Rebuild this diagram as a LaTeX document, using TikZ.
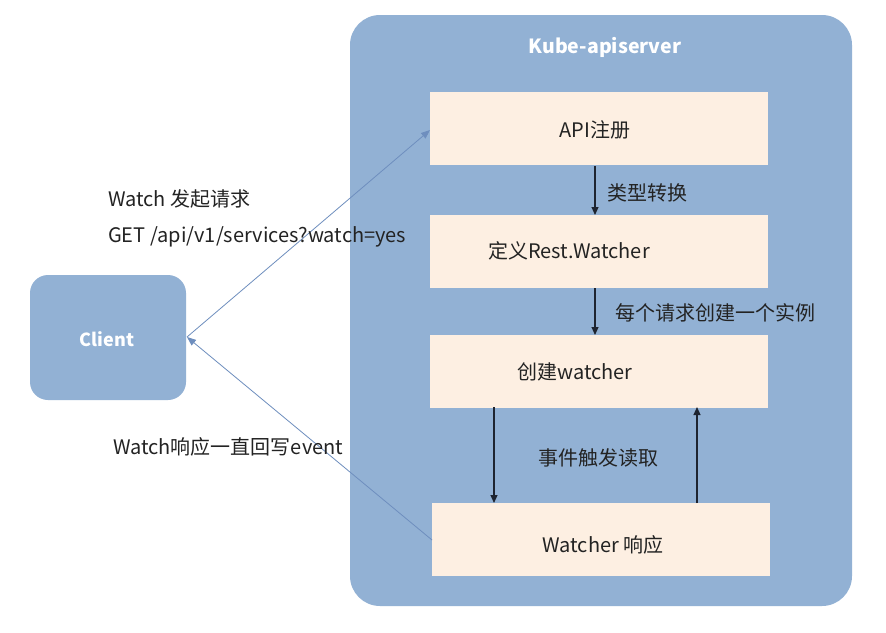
\documentclass[tikz,border=0pt]{standalone}
\usepackage{fontspec}
\setmainfont{Noto Sans CJK SC}
\usetikzlibrary{arrows.meta}
\definecolor{panel}{RGB}{146,177,212}
\definecolor{peach}{RGB}{253,239,226}
\definecolor{ink}{RGB}{30,36,48}
\definecolor{thin}{RGB}{110,142,190}
\definecolor{txt}{RGB}{35,35,35}
\tikzset{
  stagebox/.style={draw=none,fill=peach,minimum width=338pt,minimum height=73pt,inner sep=0pt},
  lbl/.style={font=\fontsize{20}{22}\selectfont,text=txt,inner sep=0pt},
  flow/.style={draw=ink,line width=1.1pt,-{Triangle[length=8pt,width=7pt]}},
  call/.style={draw=thin,line width=0.8pt,-{Triangle[length=9pt,width=7pt]}}
}
\begin{document}
\begin{tikzpicture}[x=1pt,y=-1pt]
\useasboundingbox (0,0) rectangle (886,632);
\fill[white] (0,0) rectangle (886,632);
% container
\node[fill=panel,rounded corners=30pt,minimum width=502pt,minimum height=591pt,inner sep=0pt] (server) at (601,310.5) {};
\node[font=\bfseries\fontsize{19.5}{22}\selectfont,text=white,inner sep=0pt] (servertitle) at (605,47) {Kube-apiserver};
% client
\node[fill=panel,rounded corners=18pt,minimum width=156pt,minimum height=125pt,inner sep=0pt] (client) at (108,337.5) {};
\node[font=\bfseries\fontsize{18}{20}\selectfont,text=white,inner sep=0pt] (clienttext) at (107,339) {Client};
% stage boxes
\node[stagebox] (api) at (599,128.5) {};
\node[stagebox] (rest) at (599,251.5) {};
\node[stagebox] (create) at (599,371) {};
\node[stagebox] (resp) at (601,539.5) {};
\node[lbl] (apit) at (595,130) {API注册};
\node[lbl] (restt) at (569,251) {定义Rest.Watcher};
\node[lbl] (createt) at (575,372) {创建watcher};
\node[lbl] (respt) at (603,545) {Watcher 响应};
% flow arrows
\coordinate (a1) at (595,166);
\coordinate (a2) at (595,215);
\draw[flow] (a1) -- (a2);
\node[lbl,anchor=west] (l1) at (607,193) {类型转换};
\coordinate (b1) at (595,288);
\coordinate (b2) at (595,335);
\draw[flow] (b1) -- (b2);
\node[lbl,anchor=west] (l2) at (615,313) {每个请求创建一个实例};
\coordinate (c1) at (494,407);
\coordinate (c2) at (494,503);
\draw[flow] (c1) -- (c2);
\coordinate (d1) at (697,503);
\coordinate (d2) at (697,407);
\draw[flow] (d1) -- (d2);
\node[lbl] (l3) at (598,458) {事件触发读取};
% client lines
\coordinate (cl) at (187,337);
\coordinate (apil) at (430,130);
\coordinate (respl) at (432,540);
\draw[call] (cl) -- (apil);
\draw[call] (respl) -- (cl);
\node[lbl,anchor=west] (w1) at (108,199) {Watch 发起请求};
\node[lbl,anchor=west] (w2) at (108,237) {GET /api/v1/services?watch=yes};
\node[lbl,anchor=west] (w3) at (113,447) {Watch响应一直回写event};
\end{tikzpicture}
\end{document}
